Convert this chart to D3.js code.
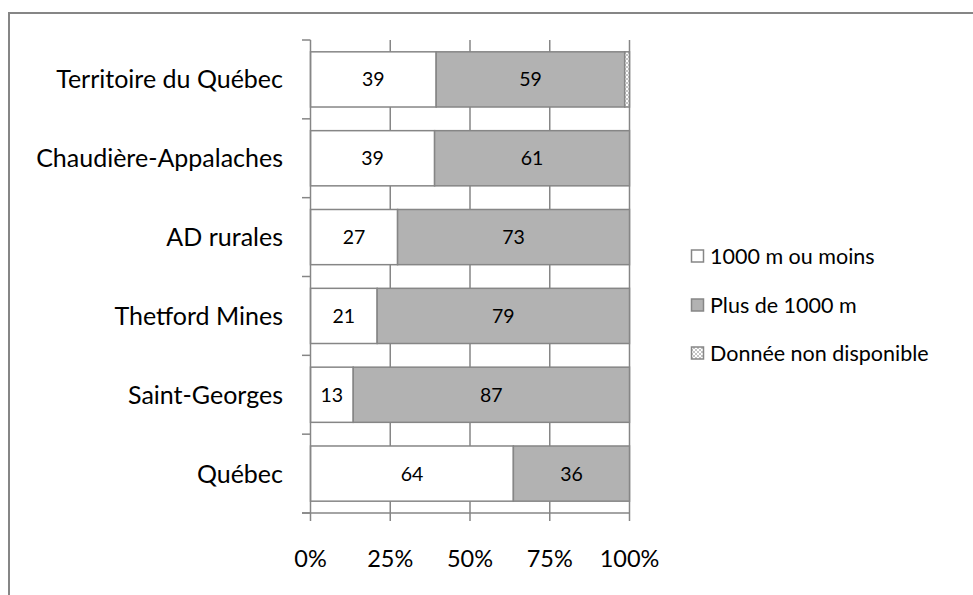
<!DOCTYPE html>
<html>
<head>
<meta charset="utf-8">
<script src="https://cdn.jsdelivr.net/npm/d3@7"></script>
<style>
  html, body { margin: 0; padding: 0; background: #fff; }
  svg { display: block; font-family: Lato, "Open Sans", sans-serif; }
</style>
</head>
<body>
<svg id="chart" width="973" height="595"></svg>
<script>
const categories = ["Territoire du Québec", "Chaudière-Appalaches", "AD rurales", "Thetford Mines", "Saint-Georges", "Québec"];
const nearValues = [39.4, 38.9, 27.3, 20.9, 13.4, 63.6];
const farValues  = [59.1, 61.1, 72.7, 79.1, 86.6, 36.4];
const naValues   = [1.5, 0, 0, 0, 0, 0];
const nearLabels = ["39", "39", "27", "21", "13", "64"];
const farLabels  = ["59", "61", "73", "79", "87", "36"];
const seriesNames = ["1000 m ou moins", "Plus de 1000 m", "Donnée non disponible"];
const tickValues = [0, 25, 50, 75, 100];
const tickLabels = ["0%", "25%", "50%", "75%", "100%"];

const svg = d3.select("#chart");
const grey = "#868686";

// pattern for "non disponible"
const defs = svg.append("defs");
const pat = defs.append("pattern").attr("id", "dots")
  .attr("width", 4).attr("height", 4).attr("patternUnits", "userSpaceOnUse");
pat.append("rect").attr("width", 4).attr("height", 4).attr("fill", "#ffffff");
pat.append("rect").attr("width", 2).attr("height", 2).attr("fill", "#c4c4c4");
pat.append("rect").attr("x", 2).attr("y", 2).attr("width", 2).attr("height", 2).attr("fill", "#c4c4c4");

// outer frame
svg.append("rect").attr("x", 9).attr("y", 13).attr("width", 1000).attr("height", 700)
  .attr("fill", "none").attr("stroke", grey).attr("stroke-width", 2);

const x = d3.scaleLinear().domain([0, 100]).range([310.5, 629.5]);
const y = d3.scaleBand().domain(categories).range([40, 513]).paddingInner(0.3).paddingOuter(0.15);

// vertical gridlines
svg.append("g").selectAll("line").data(tickValues.slice(1)).join("line")
  .attr("x1", d => x(d)).attr("x2", d => x(d))
  .attr("y1", 40).attr("y2", 513)
  .attr("stroke", grey).attr("stroke-width", 1.5);

// stacked bars
const rows = categories.map((c, i) => ({ c, i, near: nearValues[i], far: farValues[i], na: naValues[i] }));
const segs = [];
rows.forEach(r => {
  segs.push({ c: r.c, x0: 0, x1: r.near, fill: "#ffffff", label: nearLabels[r.i] });
  segs.push({ c: r.c, x0: r.near, x1: r.near + r.far, fill: "#b2b2b2", label: farLabels[r.i] });
  if (r.na > 0) segs.push({ c: r.c, x0: r.near + r.far, x1: r.near + r.far + r.na, fill: "url(#dots)", label: null });
});

svg.append("g").selectAll("rect").data(segs).join("rect")
  .attr("x", d => x(d.x0)).attr("width", d => x(d.x1) - x(d.x0))
  .attr("y", d => y(d.c)).attr("height", y.bandwidth())
  .attr("fill", d => d.fill).attr("stroke", grey).attr("stroke-width", 1.5);

svg.append("g").selectAll("text").data(segs.filter(d => d.label)).join("text")
  .attr("x", d => (x(d.x0) + x(d.x1)) / 2)
  .attr("y", d => y(d.c) + y.bandwidth() / 2)
  .attr("dy", "0.36em")
  .attr("text-anchor", "middle")
  .attr("font-size", 19.5).attr("fill", "#000")
  .text(d => d.label);

// y axis
const yAxis = svg.append("g");
yAxis.append("line").attr("x1", 310.5).attr("x2", 310.5).attr("y1", 40).attr("y2", 513)
  .attr("stroke", grey).attr("stroke-width", 1.5);
const bounds = categories.map(c => y(c) - y.step() * y.paddingInner() / 2).concat([513]);
yAxis.selectAll("line.tick").data(bounds).join("line").attr("class", "tick")
  .attr("x1", 302).attr("x2", 310.5).attr("y1", d => d).attr("y2", d => d)
  .attr("stroke", grey).attr("stroke-width", 1.5);
yAxis.selectAll("text").data(categories).join("text")
  .attr("x", 283).attr("y", d => y(d) + y.bandwidth() / 2)
  .attr("dy", "0.36em").attr("text-anchor", "end")
  .attr("font-size", 25).attr("fill", "#000")
  .text(d => d);

// x axis
const xAxis = svg.append("g");
xAxis.append("line").attr("x1", 302).attr("x2", 629.5).attr("y1", 513).attr("y2", 513)
  .attr("stroke", grey).attr("stroke-width", 1.5);
xAxis.selectAll("line.tick").data(tickValues).join("line").attr("class", "tick")
  .attr("x1", d => x(d)).attr("x2", d => x(d)).attr("y1", 513).attr("y2", 521)
  .attr("stroke", grey).attr("stroke-width", 1.5);
xAxis.selectAll("text").data(tickValues).join("text")
  .attr("x", d => x(d)).attr("y", 567)
  .attr("text-anchor", "middle").attr("font-size", 23.5).attr("fill", "#000")
  .text((d, i) => tickLabels[i]);

// legend
const legendFills = ["#ffffff", "#b2b2b2", "url(#dots)"];
const legendY = [256, 305, 353];
const lg = svg.append("g").selectAll("g").data(seriesNames).join("g")
  .attr("transform", (d, i) => `translate(691,${legendY[i]})`);
lg.append("rect").attr("x", 0.5).attr("y", -6).attr("width", 12).attr("height", 12)
  .attr("fill", (d, i) => legendFills[i]).attr("stroke", grey).attr("stroke-width", 1.5);
lg.append("text").attr("x", 19).attr("dy", "0.36em")
  .attr("font-size", 21.5).attr("fill", "#000")
  .text(d => d);
</script>
</body>
</html>
